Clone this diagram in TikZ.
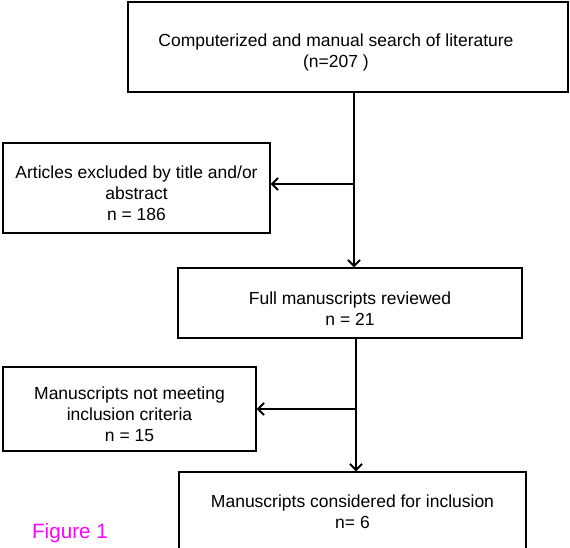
\documentclass[tikz,border=0pt]{standalone}
\usepackage{fontspec}
\setmainfont{Liberation Sans}
\usepackage[x11names, rgb]{xcolor}
\usepackage{tikz}
\usetikzlibrary{arrows.meta,calc}

\newcommand{\topgap}{\rule{0pt}{24pt}}

\begin{document}
\begin{tikzpicture}[x=1pt,y=-1pt]
\tikzset{
	box node/.style = {rectangle, draw, line width = 1.3pt, align = center, inner sep = 0pt,
		font = \fontsize{17.5}{21}\selectfont},
	flow edge/.style = {line width = 2pt, -{Straight Barb[length = 6pt, width = 12pt]}},
}
\useasboundingbox (0,0) rectangle (570,548);

\node(search)[box node, minimum width = 440, minimum height = 90] at (348,47)
	{\topgap Computerized and manual search of literature\hspace*{24pt}\\(n=207 )\hspace*{24pt}};
\node(excl1)[box node, minimum width = 267, minimum height = 90] at (136.5,188)
	{\topgap Articles excluded by title and/or\\abstract\\n = 186};
\node(full)[box node, minimum width = 344, minimum height = 70] at (350,303)
	{\topgap Full manuscripts reviewed\\n = 21};
\node(excl2)[box node, minimum width = 253, minimum height = 84] at (129.5,409)
	{\topgap Manuscripts not meeting\\inclusion criteria\\n = 15};
\node(incl)[box node, minimum width = 347, minimum height = 80] at (352.5,512)
	{Manuscripts considered for inclusion\\n= 6};
\node(fig)[text = magenta, font = \fontsize{20.7}{24}\selectfont] at (70,533) {Figure 1};

\coordinate (j1) at (354,184);
\coordinate (j2) at (356,409);
\draw[flow edge] (search.south -| j1) -- (full.north -| j1);
\draw[flow edge] (j1) -- (j1 -| excl1.east);
\draw[flow edge] (full.south -| j2) -- (incl.north -| j2);
\draw[flow edge] (j2) -- (j2 -| excl2.east);

\end{tikzpicture}
\end{document}
